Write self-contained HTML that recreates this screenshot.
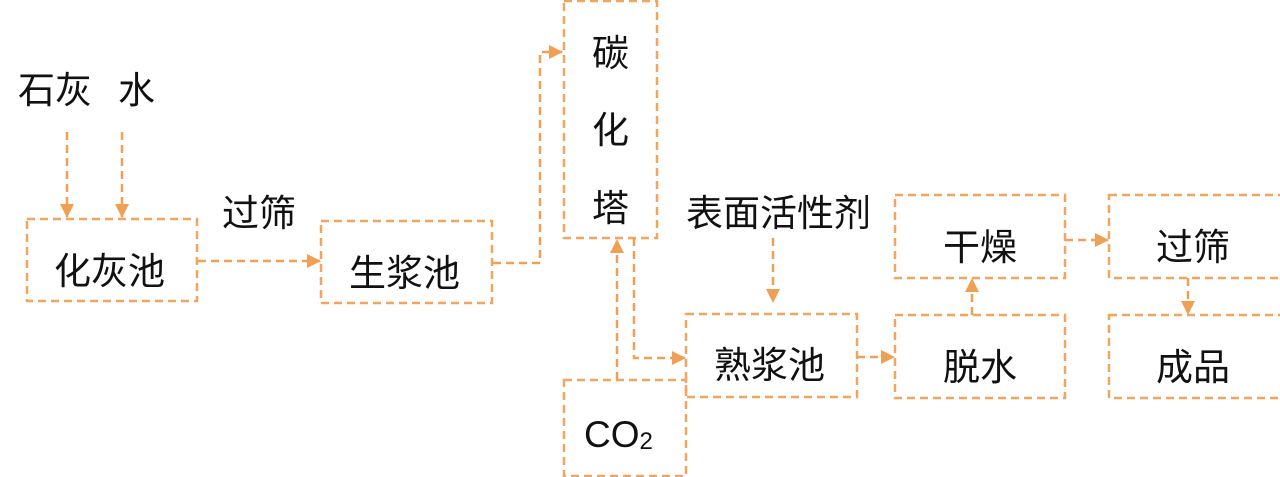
<!DOCTYPE html>
<html><head><meta charset="utf-8"><style>
html,body{margin:0;padding:0;background:#fff;}
svg{display:block;}
text{font-family:"Liberation Sans","Noto Sans CJK SC",sans-serif;font-size:37px;fill:#111;}
</style></head><body>
<svg width="1280" height="477" viewBox="0 0 1280 477">
<defs>
<marker id="b" markerWidth="14" markerHeight="14" refX="13" refY="7" orient="auto" markerUnits="userSpaceOnUse">
<path d="M0,0 L14,7 L0,14 Z" fill="#f0a055"/></marker>
</defs>
<g fill="none" stroke="#f0a560" stroke-width="2.5" stroke-dasharray="8,5">
<rect x="27" y="219" width="170" height="82"/>
<rect x="321" y="221" width="171" height="82"/>
<rect x="564" y="1" width="93" height="237"/>
<rect x="564" y="380" width="122" height="96"/>
<rect x="686" y="314" width="171" height="83"/>
<rect x="895" y="195" width="170" height="83"/>
<rect x="895" y="315" width="170" height="83"/>
<rect x="1109" y="195" width="173" height="83"/>
<rect x="1109" y="315" width="173" height="83"/>
</g>
<g fill="none" stroke="#f0a055" stroke-width="2.5" stroke-dasharray="8,5">
<path d="M67 132 V217" marker-end="url(#b)"/>
<path d="M122 132 V217" marker-end="url(#b)"/>
<path d="M198 261 H320" marker-end="url(#b)"/>
<path d="M493 263 H540 V52 H562" marker-end="url(#b)"/>
<path d="M617 380 V240" marker-end="url(#b)"/>
<path d="M634 238 V358 H685" marker-end="url(#b)"/>
<path d="M773 238 V302" marker-end="url(#b)"/>
<path d="M857 357 H894" marker-end="url(#b)"/>
<path d="M972 315 V279" marker-end="url(#b)"/>
<path d="M1065 240 H1108" marker-end="url(#b)"/>
<path d="M1188 278 V314" marker-end="url(#b)"/>
</g>
<text x="18" y="103">石灰</text>
<text x="118" y="103">水</text>
<text x="222" y="226">过筛</text>
<text x="54" y="284">化灰池</text>
<text x="349" y="286">生浆池</text>
<text x="592" y="66">碳</text>
<text x="592" y="143">化</text>
<text x="592" y="221">塔</text>
<text x="686" y="226">表面活性剂</text>
<text x="714" y="378">熟浆池</text>
<text x="943" y="260">干燥</text>
<text x="943" y="380">脱水</text>
<text x="1156" y="260">过筛</text>
<text x="1156" y="380">成品</text>
<text x="584" y="447">CO<tspan font-size="24" dy="2">2</tspan></text>
</svg>
</body></html>
